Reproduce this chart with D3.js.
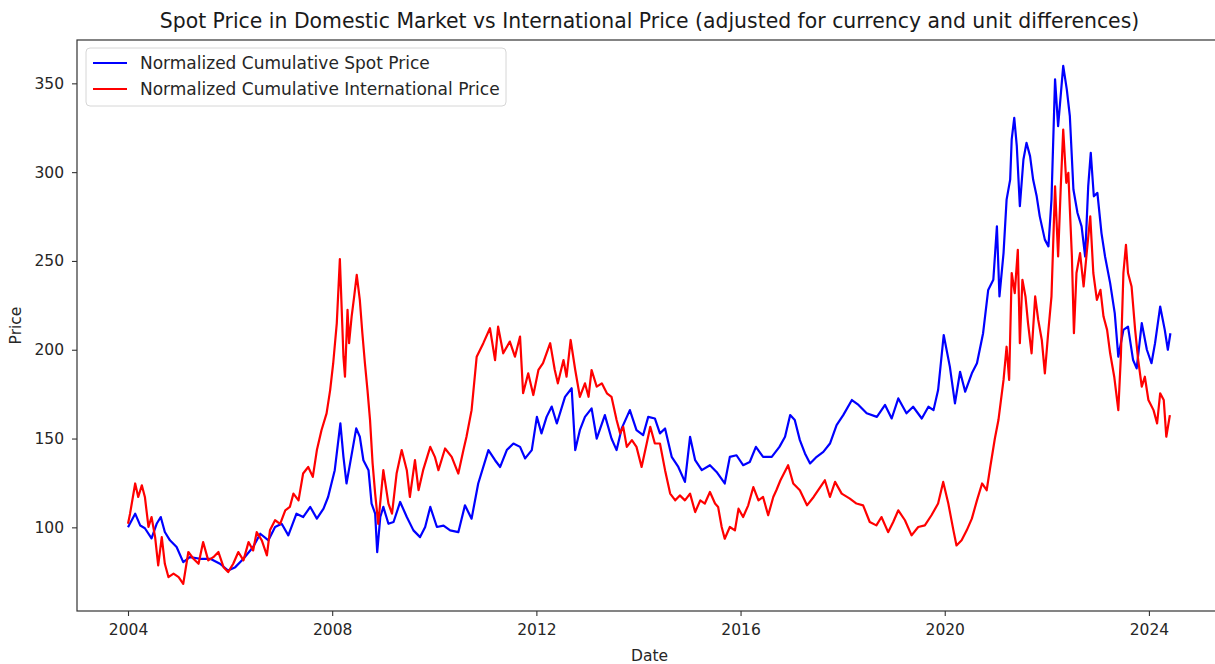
<!DOCTYPE html>
<html>
<head>
<meta charset="utf-8">
<script src="https://cdn.jsdelivr.net/npm/d3@7"></script>
<style>
  body { margin: 0; background: #fff; }
  svg { display: block; font-family: "DejaVu Sans", sans-serif; }
</style>
</head>
<body>
<div id="chart"></div>
<script>
// values (decimal years / price index)
const spotYears = [2004.0, 2004.14, 2004.24, 2004.33, 2004.46, 2004.56, 2004.64, 2004.72, 2004.82, 2004.95,
  2005.08, 2005.21, 2005.41, 2005.61, 2005.80, 2005.96, 2006.10, 2006.26, 2006.45, 2006.59,
  2006.75, 2006.88, 2007.01, 2007.14, 2007.30, 2007.43, 2007.57, 2007.70, 2007.83, 2007.92,
  2008.05, 2008.16, 2008.22, 2008.28, 2008.35, 2008.47, 2008.54, 2008.61, 2008.71, 2008.77,
  2008.84, 2008.88, 2008.94, 2009.00, 2009.10, 2009.20, 2009.33, 2009.46, 2009.59, 2009.72,
  2009.82, 2009.92, 2010.05, 2010.18, 2010.31, 2010.47, 2010.60, 2010.73, 2010.86, 2011.06,
  2011.19, 2011.29, 2011.42, 2011.55, 2011.68, 2011.78, 2011.91, 2012.01, 2012.10, 2012.20,
  2012.30, 2012.40, 2012.56, 2012.69, 2012.76, 2012.85, 2012.95, 2013.08, 2013.18, 2013.34,
  2013.47, 2013.57, 2013.67, 2013.83, 2013.96, 2014.09, 2014.19, 2014.32, 2014.42, 2014.52,
  2014.65, 2014.78, 2014.91, 2015.01, 2015.11, 2015.24, 2015.40, 2015.53, 2015.69, 2015.79,
  2015.92, 2016.05, 2016.18, 2016.30, 2016.44, 2016.61, 2016.76, 2016.87, 2016.97, 2017.06,
  2017.16, 2017.26, 2017.36, 2017.49, 2017.62, 2017.75, 2017.88, 2018.01, 2018.18, 2018.31,
  2018.47, 2018.67, 2018.83, 2018.96, 2019.09, 2019.25, 2019.38, 2019.55, 2019.68, 2019.78,
  2019.87, 2019.98, 2020.10, 2020.20, 2020.30, 2020.40, 2020.53, 2020.63, 2020.75, 2020.85,
  2020.95, 2021.02, 2021.07, 2021.15, 2021.21, 2021.28, 2021.31, 2021.36, 2021.41, 2021.47,
  2021.54, 2021.60, 2021.67, 2021.73, 2021.80, 2021.86, 2021.96, 2022.03, 2022.09, 2022.16,
  2022.22, 2022.32, 2022.39, 2022.45, 2022.52, 2022.60, 2022.68, 2022.75, 2022.81, 2022.86,
  2022.92, 2022.99, 2023.07, 2023.14, 2023.24, 2023.33, 2023.40, 2023.50, 2023.59, 2023.69,
  2023.76, 2023.86, 2023.96, 2024.05, 2024.12, 2024.22, 2024.31, 2024.37, 2024.42];
const spotValues = [100, 107.7, 101, 99.5, 93.8, 102, 105.8, 97.4, 92.7, 88.9,
  80.4, 83.2, 82.3, 82.3, 79.5, 75.7, 77.6, 82.3, 88.9, 96.4,
  92.7, 100.2, 102, 95.5, 107.7, 105.8, 111.5, 104.9, 110.5, 117.1,
  132.2, 158.5, 139.7, 124.7, 136, 155.7, 151, 137.8, 132.2, 113.4,
  107.7, 86, 105.8, 111.5, 102, 103, 114.3, 105.8, 98.3, 94.5,
  100.2, 111.5, 100.2, 101, 98.3, 97.3, 112.4, 104.9, 124.7, 143.5,
  137.8, 134, 143.5, 147.2, 145.3, 138.8, 143.5, 162.2, 152.9, 162.2,
  168, 158.5, 173.5, 178.3, 143.5, 154.7, 162.2, 167, 150, 163.2,
  150, 143.5, 155.7, 166, 154.7, 151.9, 162.2, 161.3, 152.9, 155.7,
  139.7, 134, 125.6, 151, 137.8, 132.2, 135, 131.2, 124.7, 139.7,
  140.6, 135, 136.8, 145.3, 139.7, 139.7, 145.3, 151, 163.2, 160.4,
  149.1, 141.6, 136, 139.7, 142.5, 147.2, 157.6, 163.2, 171.7, 168.9,
  164.2, 162.2, 168.9, 161.3, 172.6, 164.2, 167.9, 161.3, 167.9, 166,
  177.3, 208.3, 190.5, 169.8, 187.6, 176.4, 186.7, 192.4, 209.3, 233.7,
  239.4, 269.5, 230, 254.4, 284.5, 295.8, 318.4, 330.6, 314.6, 280.8,
  307.1, 316.5, 309, 295.8, 286.4, 275.1, 262, 258.2, 284.5, 352.3,
  325.9, 359.8, 346.6, 331.5, 290.2, 277, 269.5, 252.5, 292, 310.9,
  286.4, 288.3, 265.7, 252.5, 237.5, 220.6, 196.1, 211.2, 213, 194.2,
  189.5, 215, 200, 192.4, 203.7, 224.3, 211.2, 200, 209.3];

const intlYears = [2004.0, 2004.04, 2004.14, 2004.20, 2004.27, 2004.33, 2004.40, 2004.46, 2004.53, 2004.59,
  2004.66, 2004.72, 2004.79, 2004.89, 2004.99, 2005.08, 2005.18, 2005.28, 2005.38, 2005.47,
  2005.57, 2005.67, 2005.77, 2005.87, 2005.96, 2006.06, 2006.16, 2006.26, 2006.36, 2006.45,
  2006.52, 2006.62, 2006.72, 2006.78, 2006.88, 2006.98, 2007.08, 2007.17, 2007.24, 2007.34,
  2007.43, 2007.53, 2007.62, 2007.70, 2007.79, 2007.89, 2007.96, 2008.02, 2008.09, 2008.15,
  2008.22, 2008.25, 2008.30, 2008.33, 2008.38, 2008.43, 2008.48, 2008.54, 2008.59, 2008.64,
  2008.69, 2008.74, 2008.79, 2008.84, 2008.90, 2009.00, 2009.10, 2009.17, 2009.26, 2009.36,
  2009.46, 2009.52, 2009.62, 2009.69, 2009.78, 2009.92, 2010.01, 2010.08, 2010.21, 2010.34,
  2010.47, 2010.57, 2010.63, 2010.73, 2010.83, 2010.96, 2011.09, 2011.19, 2011.25, 2011.35,
  2011.48, 2011.58, 2011.68, 2011.74, 2011.84, 2011.94, 2012.04, 2012.13, 2012.27, 2012.36,
  2012.42, 2012.53, 2012.59, 2012.67, 2012.76, 2012.85, 2012.95, 2013.02, 2013.08, 2013.18,
  2013.28, 2013.38, 2013.47, 2013.57, 2013.64, 2013.70, 2013.77, 2013.87, 2013.96, 2014.06,
  2014.16, 2014.23, 2014.32, 2014.42, 2014.52, 2014.62, 2014.72, 2014.81, 2014.91, 2015.01,
  2015.11, 2015.21, 2015.30, 2015.40, 2015.50, 2015.56, 2015.63, 2015.69, 2015.79, 2015.89,
  2015.96, 2016.05, 2016.15, 2016.25, 2016.35, 2016.44, 2016.54, 2016.64, 2016.70, 2016.78,
  2016.93, 2017.03, 2017.16, 2017.30, 2017.43, 2017.56, 2017.65, 2017.75, 2017.85, 2017.98,
  2018.14, 2018.27, 2018.40, 2018.53, 2018.66, 2018.76, 2018.89, 2018.99, 2019.09, 2019.22,
  2019.35, 2019.48, 2019.61, 2019.74, 2019.87, 2019.97, 2020.07, 2020.17, 2020.23, 2020.33,
  2020.43, 2020.53, 2020.63, 2020.73, 2020.82, 2020.89, 2020.98, 2021.05, 2021.15, 2021.21,
  2021.26, 2021.31, 2021.37, 2021.43, 2021.47, 2021.52, 2021.58, 2021.63, 2021.70, 2021.77,
  2021.83, 2021.90, 2021.96, 2022.03, 2022.09, 2022.16, 2022.22, 2022.27, 2022.32, 2022.38,
  2022.42, 2022.49, 2022.53, 2022.58, 2022.65, 2022.72, 2022.78, 2022.85, 2022.91, 2022.98,
  2023.05, 2023.11, 2023.18, 2023.24, 2023.32, 2023.40, 2023.45, 2023.50, 2023.55, 2023.59,
  2023.66, 2023.73, 2023.79, 2023.86, 2023.92, 2023.99, 2024.09, 2024.16, 2024.22, 2024.29,
  2024.34, 2024.41];
const intlValues = [102, 107.7, 124.7, 117.1, 123.7, 117.1, 100.2, 105.8, 94.5, 78.6,
  94.5, 79.5, 72, 73.9, 72, 68.2, 86.1, 82.3, 79.5, 91.7,
  81.4, 83.2, 86.1, 77.6, 74.8, 79.5, 86.1, 81.4, 91.7, 87,
  97.3, 92.7, 84.2, 98.3, 104, 102, 109.6, 111.5, 119, 115.2,
  130.3, 134, 128.4, 143.5, 154.7, 164.2, 177.3, 192.4, 215, 251,
  196.1, 184.8, 222.5, 203.7, 218.7, 230, 242.2, 228.1, 209.3, 192.4,
  177.3, 160.4, 136, 119, 102, 132.2, 113.4, 107.7, 130.3, 143.5,
  132.2, 117.1, 137.8, 120.9, 132.2, 145.3, 139.7, 132.2, 144.4, 139.7,
  130.3, 143.5, 151, 166, 196.1, 203.7, 212.1, 194.2, 213, 198,
  204.6, 196.1, 207.4, 175.5, 186.7, 174.5, 188.6, 192.4, 203.7, 188.6,
  181.1, 194.2, 184.8, 205.5, 188.6, 173.5, 181.1, 173.5, 188.6, 179.2,
  181.1, 175.5, 173.5, 160.4, 152.9, 156.6, 145.3, 149.1, 145.3, 134,
  147.2, 156.6, 147.2, 147.2, 132.2, 119, 115.2, 118, 115.2, 119,
  108.6, 115.2, 113.4, 119.9, 113.4, 111.5, 100.2, 93.6, 100.2, 98.3,
  110.5, 105.8, 112.4, 122.7, 115.2, 117.1, 106.8, 117.1, 120.9, 126.5,
  135, 124.7, 120.9, 112.4, 117.1, 122.7, 126.5, 117.1, 125.6, 119,
  116.2, 113.4, 112.4, 103, 101.1, 105.8, 97.3, 103, 109.6, 104,
  95.5, 100.2, 101.1, 106.8, 113.4, 125.6, 113.4, 98.3, 89.8, 92.7,
  98.3, 104.9, 115.2, 124.7, 120.9, 134, 150, 160.4, 183, 201.7,
  183, 243.2, 231.9, 256.3, 203.7, 239.4, 230, 215, 198, 230,
  216.8, 205.5, 186.7, 211.2, 230, 292, 252.5, 290.2, 324, 294,
  299.6, 252.5, 209.3, 243.2, 254.4, 235.6, 254.4, 275.1, 243.2, 228.1,
  233.7, 218.7, 211.2, 198, 184.8, 166, 196.1, 243.2, 259.1, 243.2,
  235.6, 211.2, 194.2, 179.2, 184.8, 171.7, 166, 158.5, 175.5, 171.7,
  151, 163.2];

const tickYears = [2004, 2008, 2012, 2016, 2020, 2024];
const yTicks = [100, 150, 200, 250, 300, 350];
const seriesNames = ["Normalized Cumulative Spot Price", "Normalized Cumulative International Price"];
const seriesColors = ["#0000ff", "#ff0000"];

const W = 1215, H = 664;
const margin = { top: 40, right: -7, bottom: 53, left: 77 };

function toDate(y) {
  const yr = Math.floor(y);
  const a = new Date(yr, 0, 1), b = new Date(yr + 1, 0, 1);
  return new Date(+a + (y - yr) * (b - a));
}

const svg = d3.select("#chart").append("svg")
  .attr("width", W)
  .attr("height", H);

const x = d3.scaleTime()
  .domain([toDate(2003.0), toDate(2025.43)])
  .range([margin.left, W - margin.right]);

const y = d3.scaleLinear()
  .domain([52.9, 374.4])
  .range([H - margin.bottom, margin.top]);

const series = [
  spotYears.map((t, i) => ({ date: toDate(t), value: spotValues[i] })),
  intlYears.map((t, i) => ({ date: toDate(t), value: intlValues[i] }))
];

const line = d3.line()
  .x(d => x(d.date))
  .y(d => y(d.value));

svg.append("clipPath").attr("id", "clip")
  .append("rect")
  .attr("x", margin.left).attr("y", margin.top)
  .attr("width", W - margin.right - margin.left)
  .attr("height", H - margin.bottom - margin.top);

svg.append("g").attr("clip-path", "url(#clip)")
  .selectAll("path")
  .data(series)
  .enter().append("path")
  .attr("d", line)
  .attr("fill", "none")
  .attr("stroke", (d, i) => seriesColors[i])
  .attr("stroke-width", 2.2)
  .attr("stroke-linejoin", "round");

// axes
const xAxis = svg.append("g")
  .attr("transform", `translate(0,${H - margin.bottom})`)
  .call(d3.axisBottom(x)
    .tickValues(tickYears.map(v => toDate(v)))
    .tickFormat(d3.timeFormat("%Y"))
    .tickSize(5).tickPadding(8));

const yAxis = svg.append("g")
  .attr("transform", `translate(${margin.left},0)`)
  .call(d3.axisLeft(y)
    .tickValues(yTicks)
    .tickSize(5).tickPadding(8));

[xAxis, yAxis].forEach(g => {
  g.select(".domain").remove();
  g.selectAll("line").attr("stroke", "#333").attr("stroke-width", 1.1);
  g.selectAll("text")
    .attr("fill", "#262626")
    .style("font-size", "15.5px")
    .style("font-family", "'DejaVu Sans', sans-serif");
});

// frame
svg.append("rect")
  .attr("x", margin.left)
  .attr("y", margin.top)
  .attr("width", W - margin.right - margin.left)
  .attr("height", H - margin.bottom - margin.top)
  .attr("fill", "none")
  .attr("stroke", "#333")
  .attr("stroke-width", 1.2);

// title and axis labels
svg.append("text")
  .attr("x", (margin.left + W - margin.right) / 2)
  .attr("y", 28)
  .attr("text-anchor", "middle")
  .attr("fill", "#1a1a1a")
  .style("font-size", "20.4px")
  .text("Spot Price in Domestic Market vs International Price (adjusted for currency and unit differences)");

svg.append("text")
  .attr("x", (margin.left + W - margin.right) / 2)
  .attr("y", 661)
  .attr("text-anchor", "middle")
  .attr("fill", "#262626")
  .style("font-size", "15.5px")
  .text("Date");

svg.append("text")
  .attr("transform", `translate(21,${(margin.top + H - margin.bottom) / 2}) rotate(-90)`)
  .attr("text-anchor", "middle")
  .attr("fill", "#262626")
  .style("font-size", "15.5px")
  .text("Price");

// legend
const legend = svg.append("g").attr("transform", "translate(86,48)");
legend.append("rect")
  .attr("width", 420).attr("height", 58)
  .attr("rx", 4)
  .attr("fill", "rgba(255,255,255,0.8)")
  .attr("stroke", "#d6d6d6");

seriesNames.forEach((name, i) => {
  const row = legend.append("g").attr("transform", `translate(0,${15 + i * 26})`);
  row.append("line")
    .attr("x1", 7).attr("x2", 41)
    .attr("stroke", seriesColors[i])
    .attr("stroke-width", 2);
  row.append("text")
    .attr("x", 54)
    .attr("dy", "0.35em")
    .attr("fill", "#262626")
    .style("font-size", "17px")
    .text(name);
});
</script>
</body>
</html>
